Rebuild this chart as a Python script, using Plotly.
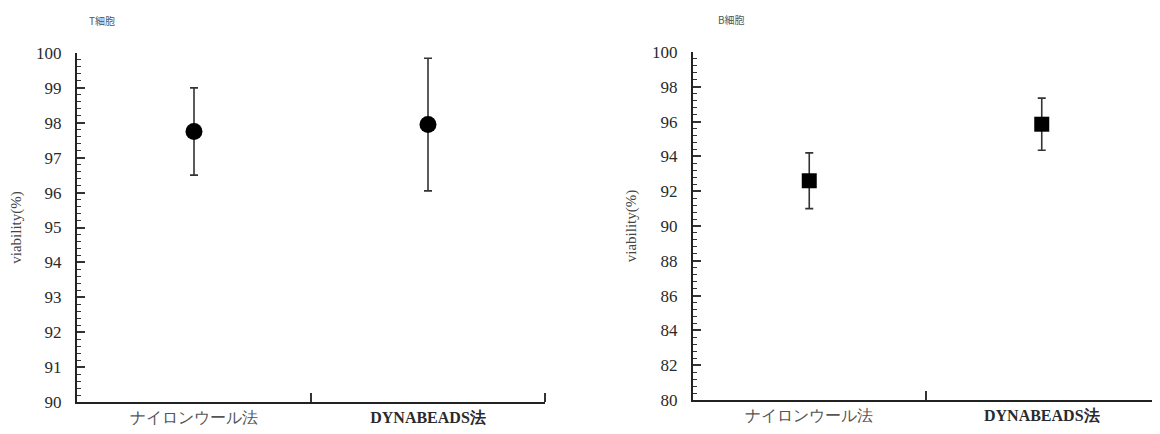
import plotly.graph_objects as go

categories = ["ナイロンウール法", "DYNABEADS法"]
t_mean = [97.75, 97.95]
t_err = [1.25, 1.9]
b_mean = [92.6, 95.85]
b_err = [1.6, 1.5]
t_ticks = [90, 91, 92, 93, 94, 95, 96, 97, 98, 99, 100]
b_ticks = [80, 82, 84, 86, 88, 90, 92, 94, 96, 98, 100]
xpos = [0, 1]
sep_ticks = [0.5, 1.5]

# the page body adds an 8px offset; layout pixel positions below are page coords
OFF = 8
W, H = 1160 - OFF, 434 - OFF
SERIF = "Liberation Serif"
TXT = "#2a2a2a"

def px(x):
    return (x - OFF) / W

def py(y):
    return 1 - (y - OFF) / H

fig = go.Figure()
fig.add_trace(go.Scatter(
    x=xpos, y=t_mean, mode="markers", xaxis="x", yaxis="y",
    marker=dict(symbol="circle", size=17, color="black"),
    error_y=dict(type="data", array=t_err, visible=True, color="#333", thickness=1.6, width=4),
    showlegend=False))
fig.add_trace(go.Scatter(
    x=xpos, y=b_mean, mode="markers", xaxis="x2", yaxis="y2",
    marker=dict(symbol="square", size=15, color="black"),
    error_y=dict(type="data", array=b_err, visible=True, color="#333", thickness=1.6, width=4),
    showlegend=False))

def xa(domain):
    return dict(domain=domain, range=[-0.5, 1.5], showgrid=False, zeroline=False,
                showline=True, linecolor="#222", linewidth=2, automargin=False,
                tickmode="array", tickvals=xpos, ticktext=[
                    "<span style='color:#555'>" + categories[0] + "</span>",
                    "<b>" + categories[1] + "</b>"],
                ticks="", tickfont=dict(family=SERIF, size=16, color=TXT),
                minor=dict(tickmode="array", tickvals=sep_ticks, ticks="inside",
                           ticklen=9, tickwidth=1.5, tickcolor="#333"),
                fixedrange=True)

def ya(domain, anchor, rng, ticks, minor_dt):
    return dict(domain=domain, anchor=anchor, range=rng, showgrid=False, zeroline=False,
                showline=True, linecolor="#222", linewidth=2, automargin=False,
                tickmode="array", tickvals=ticks, ticks="inside", ticklen=8,
                tickwidth=1.5, tickcolor="#333", ticklabelstandoff=10,
                tickfont=dict(family=SERIF, size=17, color=TXT),
                minor=dict(dtick=minor_dt, tick0=rng[0], ticks="inside", ticklen=4,
                           tickwidth=1.2, tickcolor="#333"),
                title=dict(text="viability(%)", font=dict(family=SERIF, size=15, color="#444"),
                           standoff=12),
                fixedrange=True)

fig.update_layout(
    width=W, height=H, margin=dict(l=0, r=0, t=0, b=0, autoexpand=False),
    paper_bgcolor="white", plot_bgcolor="white",
    xaxis=dict(**xa([px(77), px(545)]), anchor="y"),
    yaxis=ya([py(402), py(53)], "x", [90, 100], t_ticks, 0.2),
    xaxis2=dict(**xa([px(693), px(1158)]), anchor="y2"),
    yaxis2=ya([py(400), py(52)], "x2", [80, 100], b_ticks, 0.4),
    annotations=[
        dict(text="T細胞", x=px(102), y=py(21), xref="paper", yref="paper",
             xanchor="center", yanchor="middle",
             showarrow=False, font=dict(family="Noto Sans CJK JP", size=10, color="#555")),
        dict(text="B細胞", x=px(731), y=py(19), xref="paper", yref="paper",
             xanchor="center", yanchor="middle",
             showarrow=False, font=dict(family="Noto Sans CJK JP", size=10, color="#555")),
    ],
)

fig.write_html("out.html")
